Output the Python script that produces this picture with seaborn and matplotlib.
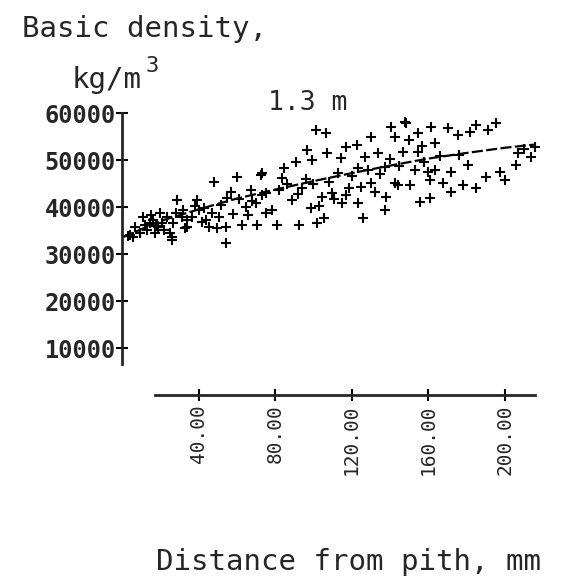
import numpy as np
import pandas as pd
import matplotlib
matplotlib.use("Agg")
import matplotlib.pyplot as plt
import seaborn as sns

# ---- data ----
dist = [5.7, 9.4, 10.9, 13, 16.1, 17.1, 19.7, 20.8, 23.4, 24.9, 26, 26.5, 29, 31.2, 31.7, 32.7,
        36.4, 39, 40.5, 41.6, 43.1, 45.7, 47.3, 49.4, 50.9, 48.3, 54.5, 54.5, 55, 57.1, 60.3,
        62.9, 64.9, 67.5, 70.1, 70.7, 72.7, 73.2, 75.3,
        3, 7, 12, 15, 18, 22, 28, 34, 38, 44, 52, 58, 61, 66, 68, 4.2, 14.5, 18.7, 26, 33.8,
        101.3, 106.5, 130.4, 96.6, 107, 114.3, 116.9, 122.6, 73.2, 84.7, 90.9, 99.2, 83.6, 75.3,
        82.1, 88.8, 94, 98.7, 104.4, 109.6, 114.8, 118.4, 123.6, 78.4, 81, 92.5, 101.8, 105.5,
        126.2, 137.7, 123.6, 128.8, 134, 137.7, 142.9, 140.8, 148.1, 142.9, 138.2, 130.4,
        86, 92, 96, 100, 103, 108, 111, 113, 117, 120, 125, 127, 132, 135, 140, 145,
        148.6, 154.8, 161.6, 163.6, 170.4, 175.6, 181.8, 185, 191.2, 195.3, 154.8, 147, 153.2,
        160, 163.6, 161, 172, 180.8, 190.1, 197.4, 200, 205.7, 213.5, 215.6, 150.6, 172, 178.2,
        185, 155.8, 161, 144.4, 157, 166, 150, 168, 158, 176, 210, 207]
density = [33600, 34500, 37900, 35100, 37200, 34500, 38700, 36600, 37900, 34500, 33000, 36600,
           41500, 37900, 39400, 35500, 37900, 41500, 39400, 36800, 39800, 35700, 38700, 35500,
           37900, 45300, 35700, 32300, 41900, 43200, 46400, 36200, 40000, 43600, 40900, 36200,
           46800, 42600, 38700,
           33800, 35800, 36200, 38200, 36000, 35200, 38800, 37200, 40200, 37300, 40500, 38500,
           41800, 38400, 41200, 34000, 36600, 35700, 33600, 35700,
           56400, 55800, 54900, 52100, 51500, 50400, 52800, 53200, 47200, 48300, 49600, 50000,
           46200, 43000, 43600, 41500, 44000, 39800, 42100, 43000, 40900, 44000, 40900, 39400,
           36200, 36200, 36600, 37700, 37700, 39400, 48300, 47900, 51500, 48500, 54900, 57000,
           58100, 45100, 42100, 45100,
           45000, 42700, 46000, 44800, 40300, 45300, 41800, 47200, 42600, 46500, 44300, 50600,
           43200, 47000, 50200, 48800,
           57900, 55800, 57000, 53600, 56800, 55300, 56000, 57500, 56400, 57900, 51700, 51700,
           47900, 47500, 47900, 45800, 47500, 49000, 46400, 47500, 45800, 49000, 50600, 52800,
           44700, 43200, 44700, 44000, 41100, 41900, 44700, 53000, 50800, 54200, 45200, 49500,
           51000, 52300, 51500]

trend_dist = [0, 20, 40, 60, 80, 100, 120, 140, 160, 180, 200, 216]
trend_density = [33500, 37000, 39500, 41800, 43700, 45500, 47200, 48800, 50300, 51500, 52600, 53300]

x_ticks = [40, 80, 120, 160, 200]
y_ticks = [10000, 20000, 30000, 40000, 50000, 60000]

title = "1.3 m"
ylabel_line1 = "Basic density,"
ylabel_line2 = "kg/m"
xlabel = "Distance from pith, mm"

# ---- plot ----
sns.set_style("ticks")
plt.rcParams["font.family"] = ["DejaVu Sans Mono", "DejaVu Sans"]

fig = plt.figure(figsize=(5.74, 5.84), dpi=100)
ax = fig.add_axes([0.2125, 0.3236, 0.7334, 0.499])

pts = pd.DataFrame({"dist": dist, "density": density})
trend = pd.DataFrame({"dist": trend_dist, "density": trend_density})

sns.scatterplot(data=pts, x="dist", y="density", marker="+", s=55,
                color="black", linewidth=1.5, ax=ax, legend=False)
sns.lineplot(data=trend, x="dist", y="density", color="black", linewidth=1.6,
             dashes=False, ax=ax, legend=False)
ax.lines[-1].set_dashes((5, 1.5))

ax.set_xlim(0, 220)
ax.set_ylim(0, 62000)
ax.set_xticks(x_ticks)
ax.set_yticks(y_ticks)
ax.set_xticklabels([f"{v:.2f}" for v in x_ticks], rotation=90, fontsize=14)
ax.set_yticklabels([f"{v}" for v in y_ticks], fontsize=17, fontweight="bold")
ax.tick_params(axis="both", direction="inout", length=9, width=1.5, color="black")
ax.tick_params(axis="y", pad=0)
ax.tick_params(axis="x", pad=2)

for s in ["top", "right"]:
    ax.spines[s].set_visible(False)
ax.spines["left"].set_bounds(6500, 60000)
ax.spines["bottom"].set_bounds(17, 216)
ax.spines["left"].set_linewidth(2)
ax.spines["bottom"].set_linewidth(2)

ax.set_xlabel(xlabel, fontsize=21)
ax.xaxis.set_label_coords(0.537, -0.573)
ax.xaxis.label.set_va("center")
ax.set_ylabel("")

ax.set_title(title, fontsize=19, x=0.44, y=0.978, va="baseline", pad=0)

fig.text(22 / 574, 1 - 37 / 584, ylabel_line1, fontsize=21, ha="left", va="baseline")
fig.text(72 / 574, 1 - 88 / 584, ylabel_line2, fontsize=21, ha="left", va="baseline")
fig.text(146 / 574, 1 - 72 / 584, "3", fontsize=16, ha="left", va="baseline")

fig.savefig("out.png", dpi=100, facecolor="white")
